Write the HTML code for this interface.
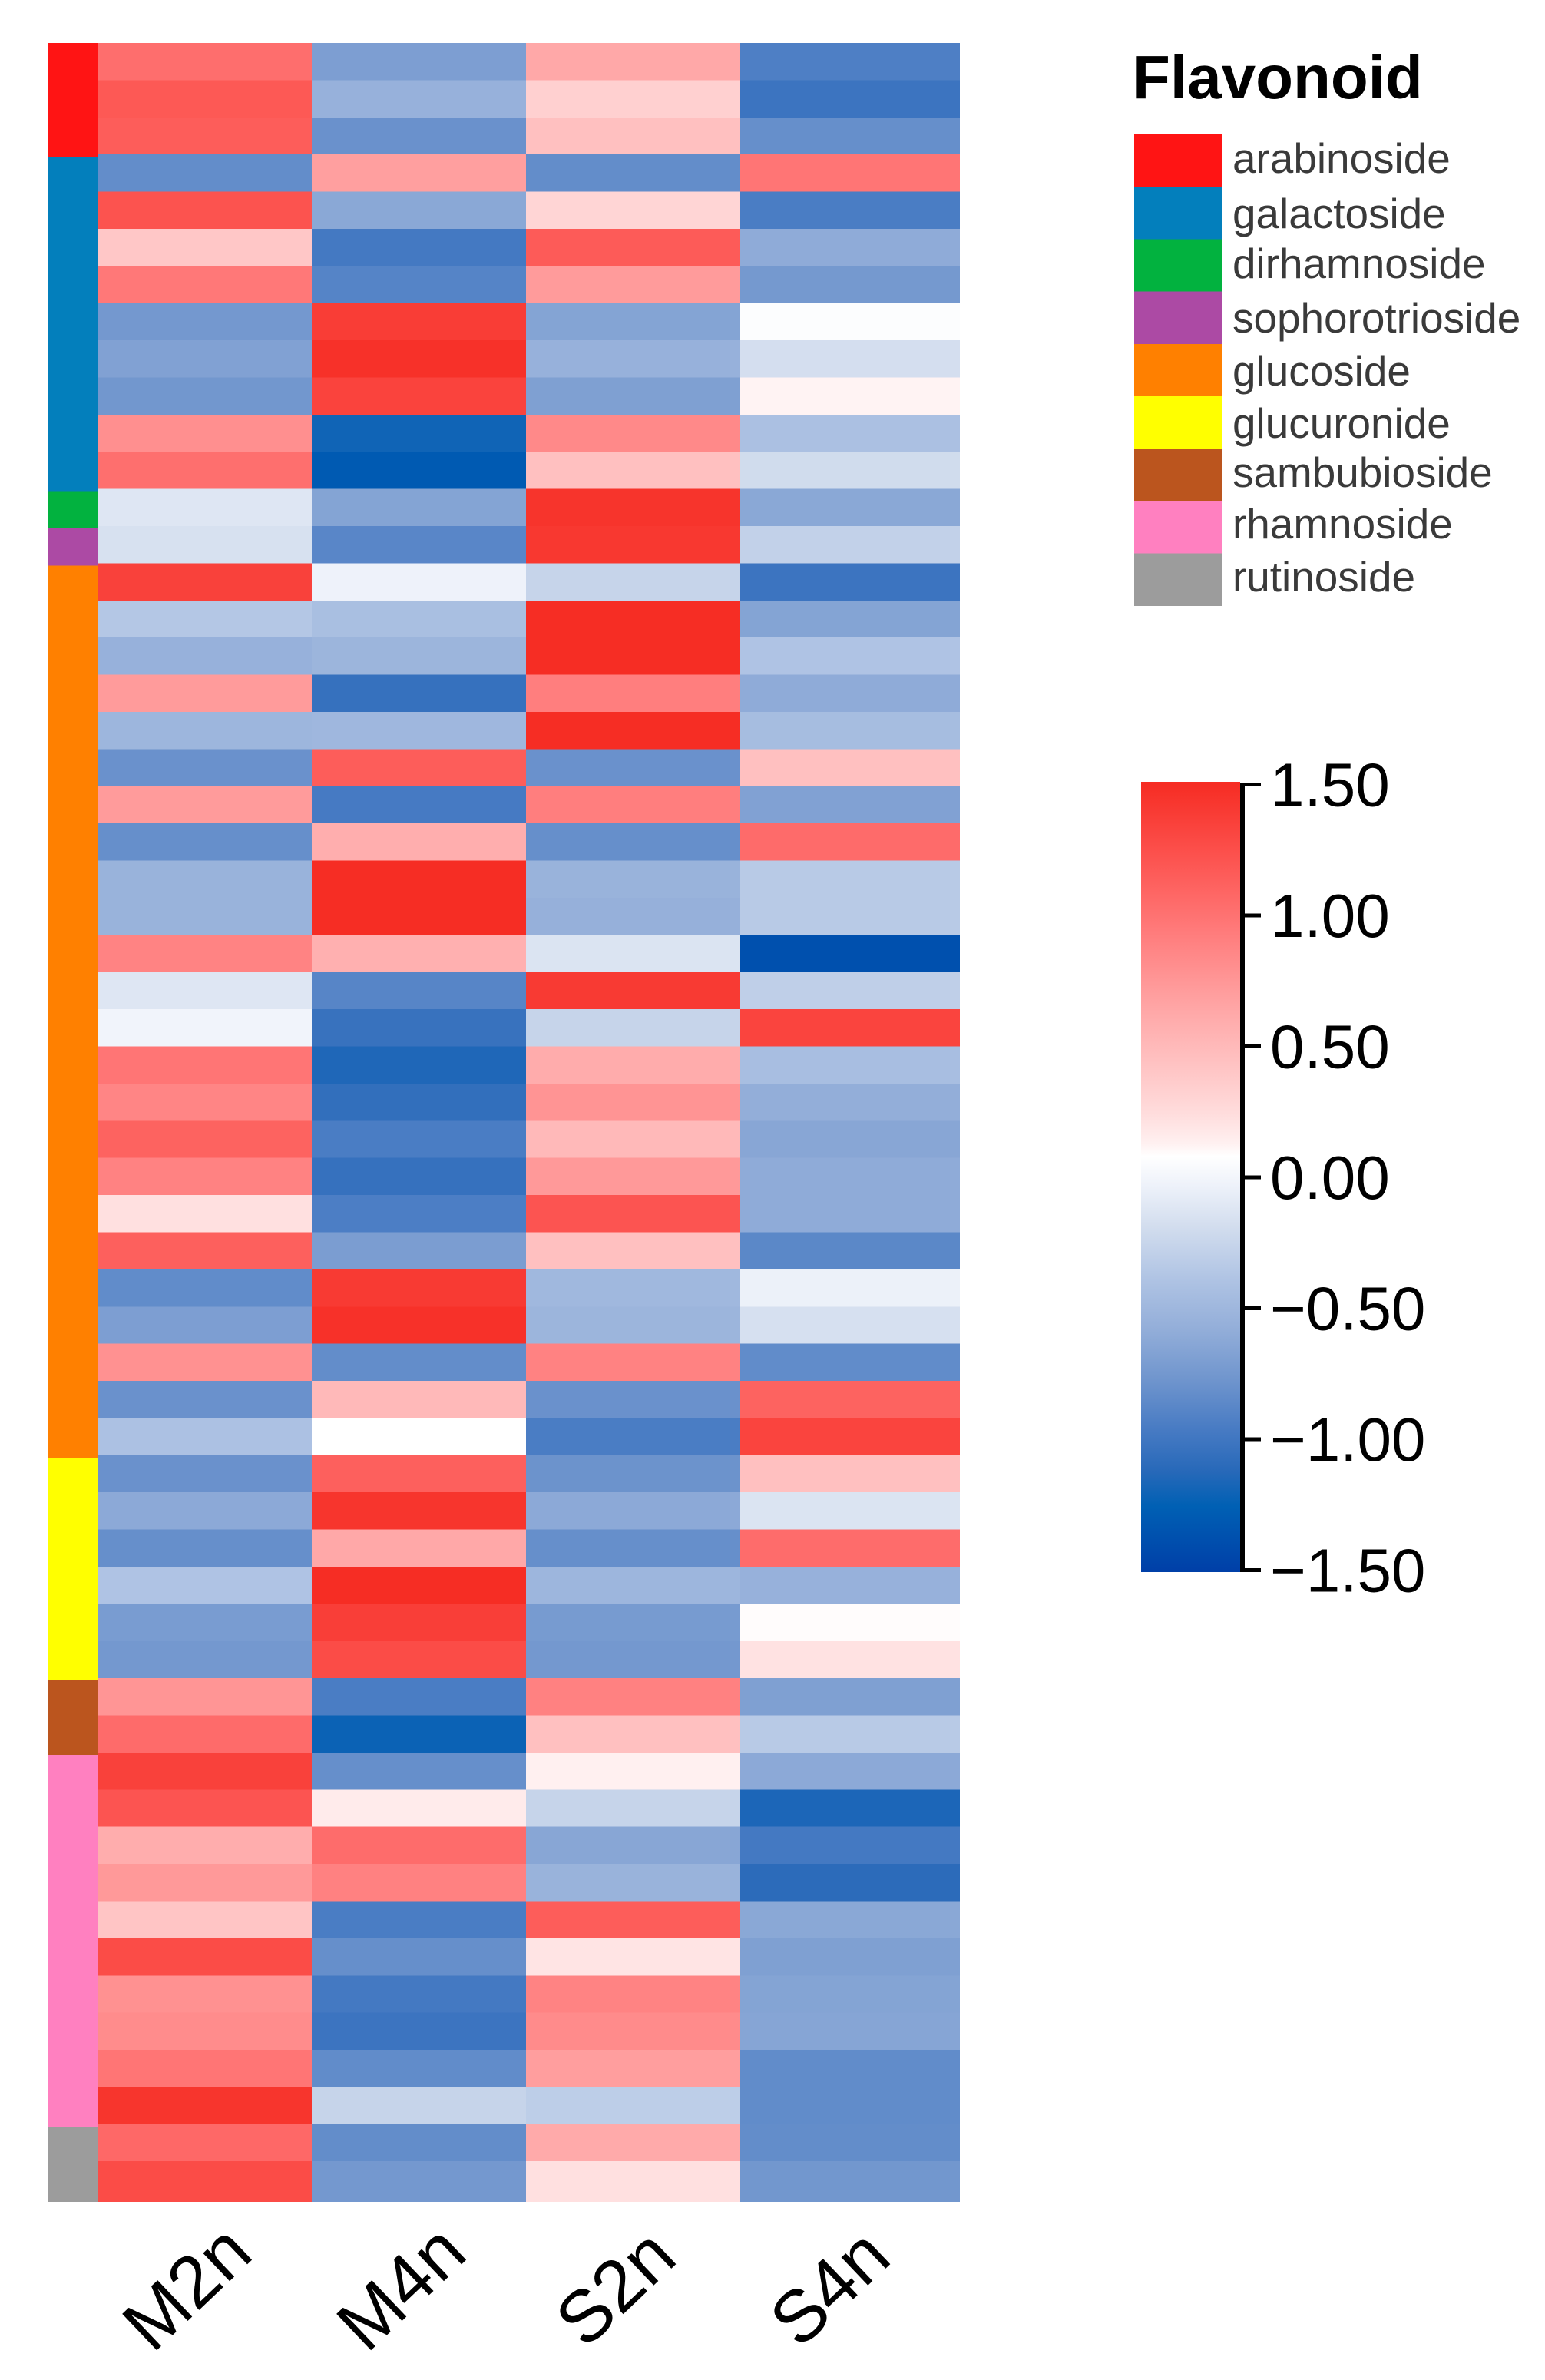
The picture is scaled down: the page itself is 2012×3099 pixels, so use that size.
<!DOCTYPE html>
<html lang="en">
<head>
<meta charset="utf-8">
<title>Flavonoid heatmap</title>
<style>
  html, body { margin: 0; padding: 0; background: #ffffff; }
  svg { display: block; }
  text { font-family: "Liberation Sans", Arial, sans-serif; }
</style>
</head>
<body>
<svg id="chart" xmlns="http://www.w3.org/2000/svg" width="2012" height="3099" viewBox="0 0 2012 3099">
  <rect x="0" y="0" width="2012" height="3099" fill="#ffffff"/>
  <g id="strip" shape-rendering="crispEdges"></g>
  <g id="cells" shape-rendering="crispEdges"></g>
  <g id="xlabels"></g>

  <g>
    <text x="1475" y="128" font-size="80" font-weight="700" fill="#000000">Flavonoid</text>
    <g shape-rendering="crispEdges">
      <rect x="1477" y="175" width="114" height="68.2" fill="#ff1414"/>
      <rect x="1477" y="243.2" width="114" height="68.2" fill="#037fbc"/>
      <rect x="1477" y="311.4" width="114" height="68.2" fill="#02b23f"/>
      <rect x="1477" y="379.6" width="114" height="68.2" fill="#ac4aa4"/>
      <rect x="1477" y="447.8" width="114" height="68.2" fill="#ff8000"/>
      <rect x="1477" y="516" width="114" height="68.2" fill="#ffff00"/>
      <rect x="1477" y="584.2" width="114" height="68.2" fill="#bb551e"/>
      <rect x="1477" y="652.4" width="114" height="68.2" fill="#ff80c0"/>
      <rect x="1477" y="720.6" width="114" height="68.2" fill="#9c9c9c"/>
    </g>
    <g font-size="54.9" fill="#3a3a3a">
      <text x="1605" y="225">arabinoside</text>
      <text x="1605" y="297">galactoside</text>
      <text x="1605" y="362">dirhamnoside</text>
      <text x="1605" y="433">sophorotrioside</text>
      <text x="1605" y="502">glucoside</text>
      <text x="1605" y="570">glucuronide</text>
      <text x="1605" y="634">sambubioside</text>
      <text x="1605" y="701">rhamnoside</text>
      <text x="1605" y="770">rutinoside</text>
    </g>
  </g>

  <defs>
    <linearGradient id="scaleGradient" gradientUnits="userSpaceOnUse" x1="0" x2="0" y1="1021.5" y2="2044.5"></linearGradient>
  </defs>
  <g id="colorbar">
    <rect x="1486" y="1018" width="129" height="1029" fill="url(#scaleGradient)"/>
    <rect x="1615" y="1019" width="6" height="1028" fill="#000000"/>
  </g>
</svg>

<script>
// Heatmap data (z-scores), top row to bottom row
const columns = ["M2n", "M4n", "S2n", "S4n"];
const m2n = [1.03,1.18,1.15,-.83,1.22,.4,.96,-.75,-.68,-.76,.8,1.02,-.12,-.16,1.35,-.36,-.55,.72,-.51,-.8,.72,-.82,-.54,-.54,.88,-.12,-.01,.98,.87,1.11,.89,.22,1.13,-.84,-.7,.79,-.8,-.41,-.8,-.62,-.82,-.39,-.72,-.75,.76,1.05,1.35,1.21,.59,.73,.41,1.27,.79,.82,.98,1.44,1.07,1.27];
const m4n = [-.7,-.55,-.8,.69,-.63,-.98,-.9,1.38,1.47,1.34,-1.2,-1.3,-.66,-.88,-.03,-.43,-.52,-1.05,-.5,1.15,-.97,.58,1.5,1.5,.57,-.89,-1.04,-1.15,-1.07,-.95,-1.05,-.94,-.71,1.4,1.47,-.83,.5,.08,1.13,1.44,.63,1.5,1.37,1.27,-.95,-1.22,-.82,.16,1.04,.9,-.95,-.82,-.98,-1.02,-.84,-.26,-.83,-.75];
const s2n = [.63,.33,.45,-.83,.3,1.16,.72,-.66,-.55,-.69,.84,.45,1.45,1.42,-.26,1.5,1.5,.92,1.5,-.8,.92,-.82,-.54,-.56,-.14,1.4,-.26,.6,.77,.5,.73,1.21,.45,-.49,-.52,.89,-.8,-.95,-.79,-.62,-.82,-.51,-.73,-.75,.9,.45,.13,-.26,-.64,-.54,1.15,.2,.88,.83,.7,-.31,.61,.22];
const s4n = [-.93,-1.02,-.82,.98,-.95,-.6,-.74,.06,-.18,.12,-.42,-.2,-.63,-.28,-1.02,-.66,-.39,-.6,-.45,.45,-.68,1.05,-.34,-.34,-1.38,-.3,1.33,-.44,-.58,-.64,-.6,-.6,-.87,-.04,-.17,-.84,1.11,1.33,.45,-.14,1.04,-.55,.09,.21,-.69,-.34,-.62,-1.16,-.98,-1.1,-.63,-.69,-.66,-.65,-.84,-.84,-.83,-.76];
const flavonoidNames = ["arabinoside", "galactoside", "dirhamnoside", "sophorotrioside", "glucoside", "glucuronide", "sambubioside", "rhamnoside", "rutinoside"];
const flavonoidRowCounts = [3, 9, 1, 1, 24, 6, 2, 10, 2];
const flavonoidColors = ["#ff1414", "#037fbc", "#02b23f", "#ac4aa4", "#ff8000", "#ffff00", "#bb551e", "#ff80c0", "#9c9c9c"];
const colorbarTicks = [1.5, 1, 0.5, 0, -0.5, -1, -1.5];
const colorbarTickLabels = ["1.50", "1.00", "0.50", "0.00", "\u22120.50", "\u22121.00", "\u22121.50"];
const scaleValues = [1.5, 1.24, 0.945, 0.65, 0.48, 0.36, 0.24, 0.13, 0.08, -0.03, -0.19, -0.385, -0.58, -0.78, -0.97, -1.12, -1.256, -1.5];
const scaleColors = [[246,45,36],[252,80,76],[255,122,122],[255,165,165],[255,188,188],[255,204,204],[255,221,221],[255,240,240],[255,255,255],[238,242,250],[210,221,238],[176,196,228],[147,174,217],[110,148,205],[70,122,195],[40,105,185],[0,96,180],[0,64,168]];

const NS = "http://www.w3.org/2000/svg";
const series = [m2n, m4n, s2n, s4n];
const rowCount = m2n.length;

function colX(i) { return i >= columns.length ? 1250 : 127 + i * 279; }
function rowY(i) { return i >= rowCount ? 2867 : 56 + i * 48.39; }
function stripY(i) { return i <= 0 ? 56 : (i >= rowCount ? 2867 : rowY(i) + 3); }
function barY(v) { return 1533 - 341 * v; }

function valueColor(v) {
  const c = Math.max(-1.5, Math.min(1.5, v));
  for (let i = 0; i < scaleValues.length - 1; i++) {
    if (c <= scaleValues[i] && c >= scaleValues[i + 1]) {
      const t = (scaleValues[i] - c) / (scaleValues[i] - scaleValues[i + 1]);
      const a = scaleColors[i], b = scaleColors[i + 1];
      return "rgb(" + Math.round(a[0] + (b[0] - a[0]) * t) + "," + Math.round(a[1] + (b[1] - a[1]) * t) + "," + Math.round(a[2] + (b[2] - a[2]) * t) + ")";
    }
  }
  return "#ffffff";
}

const cellsGroup = document.getElementById("cells");
series.forEach(function (values, c) {
  values.forEach(function (v, r) {
    const el = document.createElementNS(NS, "rect");
    
    
    el.setAttribute("x", colX(c));
    el.setAttribute("y", rowY(r));
    el.setAttribute("width", colX(c + 1) - colX(c));
    el.setAttribute("height", rowY(r + 1) - rowY(r));
    el.setAttribute("fill", valueColor(v));
    cellsGroup.appendChild(el);
  });
});

const stripGroup = document.getElementById("strip");
let startRow = 0;
flavonoidRowCounts.forEach(function (n, g) {
  const el = document.createElementNS(NS, "rect");
  
  
  el.setAttribute("x", 63);
  el.setAttribute("y", stripY(startRow));
  el.setAttribute("width", 64);
  el.setAttribute("height", stripY(startRow + n) - stripY(startRow));
  el.setAttribute("fill", flavonoidColors[g]);
  stripGroup.appendChild(el);
  startRow += n;
});

const labelGroup = document.getElementById("xlabels");
columns.forEach(function (name, c) {
  const cx = (colX(c) + colX(c) + 279) / 2;
  const el = document.createElementNS(NS, "text");
  
  
  el.setAttribute("transform", "translate(" + (cx - 1) + ",3002) rotate(-43.5)");
  el.setAttribute("text-anchor", "middle");
  el.setAttribute("font-size", "95");
  el.setAttribute("fill", "#000000");
  el.textContent = name;
  labelGroup.appendChild(el);
});

const gradient = document.getElementById("scaleGradient");
scaleValues.forEach(function (v, i) {
  const stop = document.createElementNS(NS, "stop");
  stop.setAttribute("offset", (1.5 - v) / 3);
  stop.setAttribute("stop-color", "rgb(" + scaleColors[i].join(",") + ")");
  gradient.appendChild(stop);
});

const barGroup = document.getElementById("colorbar");
colorbarTicks.forEach(function (v, i) {
  const tick = document.createElementNS(NS, "line");
  
  
  tick.setAttribute("x1", 1617);
  tick.setAttribute("x2", 1642);
  tick.setAttribute("y1", barY(v));
  tick.setAttribute("y2", barY(v));
  tick.setAttribute("stroke", "#000000");
  tick.setAttribute("stroke-width", 5);
  barGroup.appendChild(tick);

  const label = document.createElementNS(NS, "text");
  
  
  label.setAttribute("x", 1654);
  label.setAttribute("y", barY(v) + 28);
  label.setAttribute("font-size", "80");
  label.setAttribute("fill", "#000000");
  label.textContent = colorbarTickLabels[i];
  barGroup.appendChild(label);
});
</script>
</body>
</html>
